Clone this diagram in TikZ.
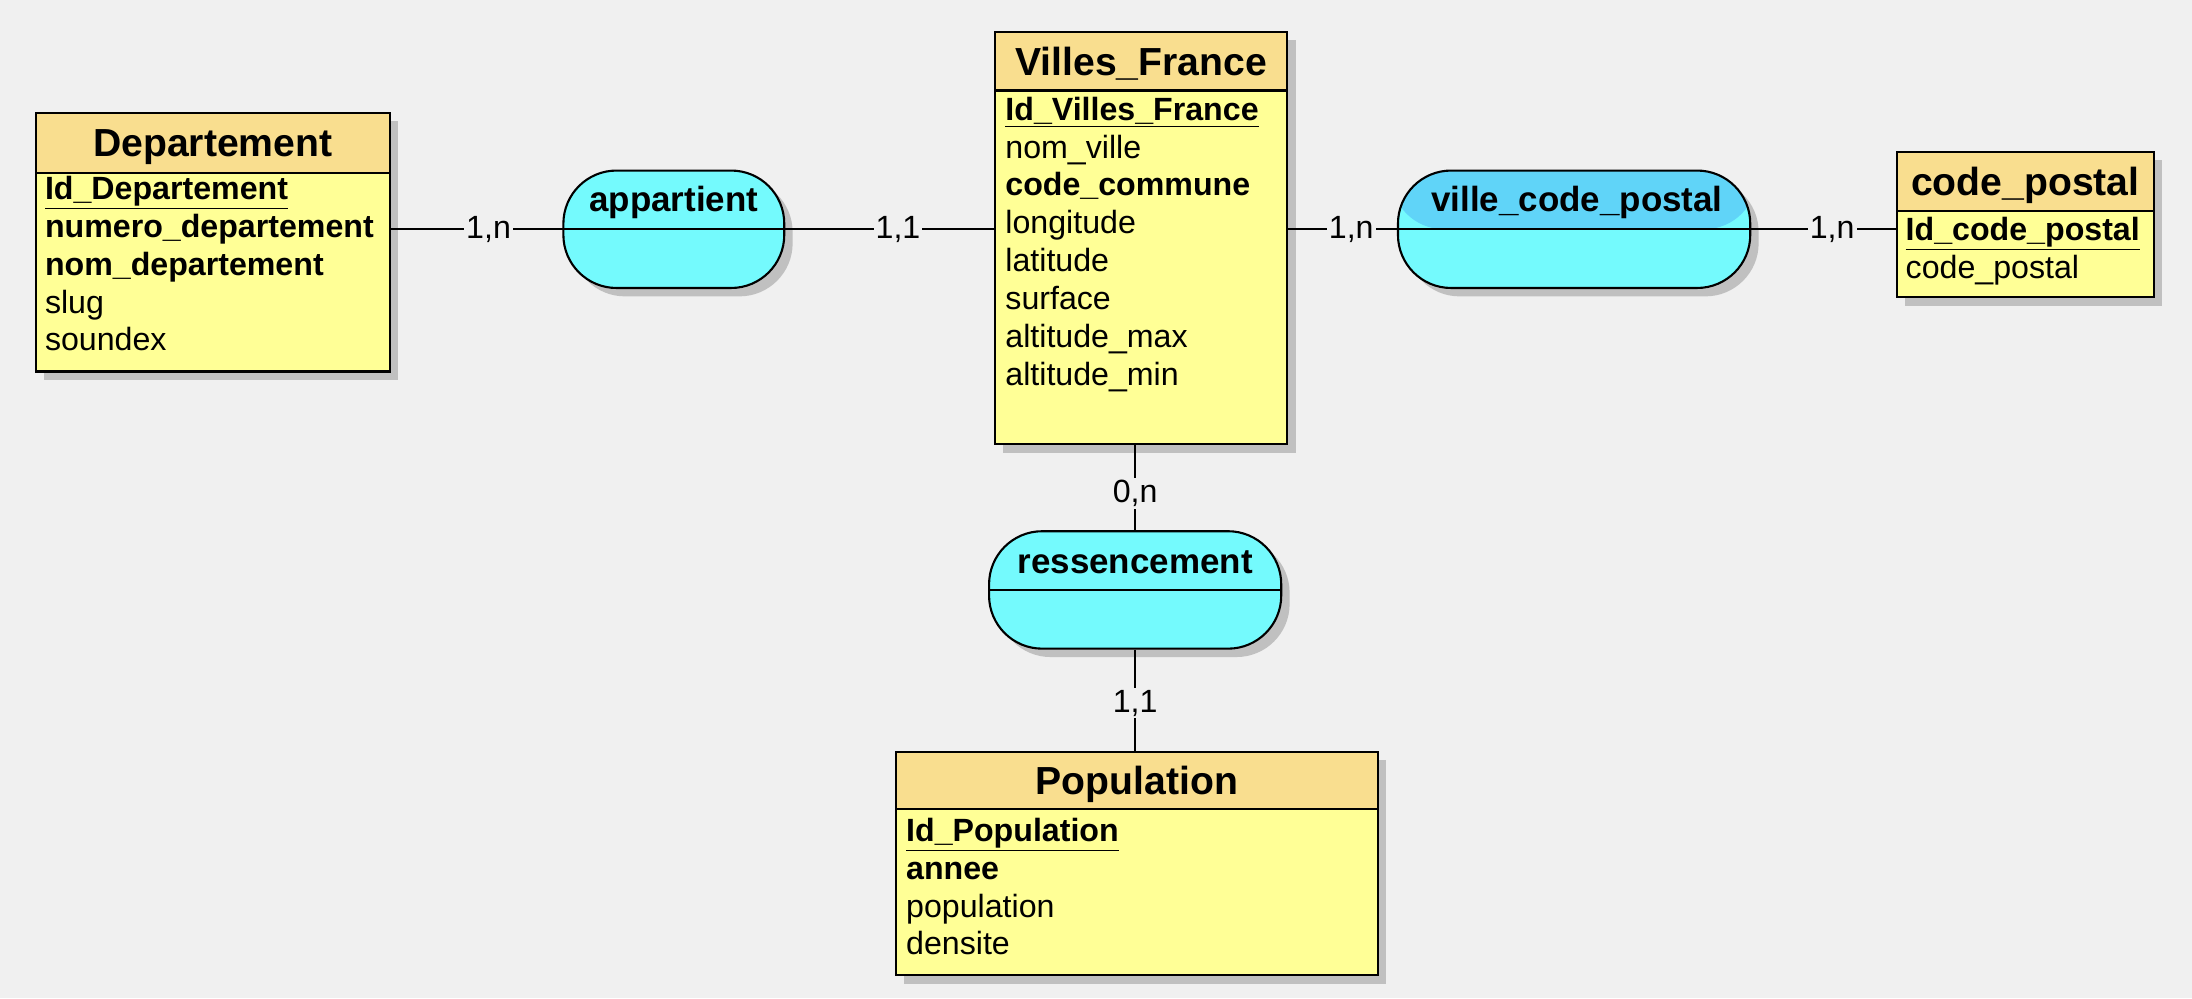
\documentclass[tikz,border=0pt]{standalone}
\usepackage{fontspec}
\setmainfont{Liberation Sans}
\usetikzlibrary{shadows}
\definecolor{bg}{RGB}{240,240,240}
\definecolor{headfill}{RGB}{249,222,143}
\definecolor{bodyfill}{RGB}{255,255,150}
\definecolor{assocfill}{RGB}{116,250,253}
\definecolor{assoctop}{RGB}{96,212,248}
\definecolor{shadowc}{RGB}{192,192,192}
\newcommand{\pkey}[1]{\underline{\textbf{#1}}}
\begin{document}
\begin{tikzpicture}[x=1pt,y=-1pt,
  shadowed/.style={drop shadow={shadow xshift=6pt, shadow yshift=-6pt, fill=shadowc, opacity=1}},
  head/.style={draw, line width=1.5pt, fill=headfill, shadowed, anchor=north west,
    font=\fontsize{28}{30}\selectfont\bfseries, text height=20pt, text depth=0pt, inner sep=0pt},
  body/.style={draw, line width=1.5pt, fill=bodyfill, shadowed, anchor=north west, inner sep=0pt},
  attr/.style={anchor=base west, inner sep=0pt, font=\fontsize{23}{25}\selectfont},
  assoc/.style={draw, line width=1.5pt, fill=assocfill, shadowed, rounded corners=38pt, inner sep=0pt},
  assoctext/.style={anchor=base, inner sep=0pt, font=\fontsize{25}{27}\selectfont\bfseries},
  card/.style={fill=bg, inner sep=1.5pt, font=\fontsize{23}{25}\selectfont},
  link/.style={line width=1.5pt},
]
\fill[bg] (0,0) rectangle (1568,714);
\useasboundingbox (0,0) rectangle (1568,714);

% Departement
\node[head, minimum width=253pt, minimum height=43pt] (dep-h) at (25,80) {Departement};
\node[body, minimum width=253pt, minimum height=142pt] (dep) at (25,123) {};
\foreach \t [count=\i] in {{\pkey{Id\_Departement}},{\textbf{numero\_departement}},{\textbf{nom\_departement}},{slug},{soundex}}
  \node[attr] (dep-a\i) at (32,{143+27*(\i-1)}) {\t};

% Villes_France
\node[head, minimum width=209pt, minimum height=42pt] (villes-h) at (711,22) {Villes\_France};
\node[body, minimum width=209pt, minimum height=253pt] (villes) at (711,64) {};
\foreach \t [count=\i] in {{\pkey{Id\_Villes\_France}},{nom\_ville},{\textbf{code\_commune}},{longitude},{latitude},{surface},{altitude\_max},{altitude\_min}}
  \node[attr] (villes-a\i) at (719,{86+27.1*(\i-1)}) {\t};

% code_postal
\node[head, minimum width=184pt, minimum height=42pt] (cp-h) at (1356,108) {code\_postal};
\node[body, minimum width=184pt, minimum height=62pt] (cp) at (1356,150) {};
\foreach \t [count=\i] in {{\pkey{Id\_code\_postal}},{code\_postal}}
  \node[attr] (cp-a\i) at (1363,{172+27*(\i-1)}) {\t};

% Population
\node[head, minimum width=345pt, minimum height=41pt] (pop-h) at (640,537) {Population};
\node[body, minimum width=345pt, minimum height=119pt] (pop) at (640,578) {};
\foreach \t [count=\i] in {{\pkey{Id\_Population}},{\textbf{annee}},{population},{densite}}
  \node[attr] (pop-a\i) at (648,{602+27*(\i-1)}) {\t};

% Associations
\node[assoc, minimum width=158pt, minimum height=84pt] (appart) at (482,164) {};
\draw[link] (appart.west) -- (appart.east);
\node[assoctext] (appart-t) at (482,151) {appartient};

\node[assoc, minimum width=252pt, minimum height=84pt,
  path picture={\fill[assoctop] ([xshift=-5pt,yshift=5pt]path picture bounding box.north west) rectangle ([xshift=5pt]path picture bounding box.east);}] (vcp) at (1126,164) {};
\draw[link] (vcp.west) -- (vcp.east);
\node[assoctext] (vcp-t) at (1128,151) {ville\_code\_postal};

\node[assoc, minimum width=209pt, minimum height=84pt] (ress) at (812,422) {};
\draw[link] (ress.west) -- (ress.east);
\node[assoctext] (ress-t) at (812,410) {ressencement};

% Connectors
\draw[link] (dep.east |- appart.center) -- node[card, pos=.57] (c1) {1,n} (appart.west);
\draw[link] (appart.east) -- node[card, pos=.54] (c2) {1,1} (appart.center -| villes.west);
\draw[link] (villes.east |- vcp.center) -- node[card, pos=.58] (c3) {1,n} (vcp.west);
\draw[link] (vcp.east) -- node[card, pos=.56] (c4) {1,n} (vcp.center -| cp.west);
\draw[link] (ress.north |- villes.south) -- node[card, pos=.57] (c5) {0,n} (ress.north);
\draw[link] (ress.south) -- node[card, pos=.53] (c6) {1,1} (ress.south |- pop-h.north);
\end{tikzpicture}
\end{document}
